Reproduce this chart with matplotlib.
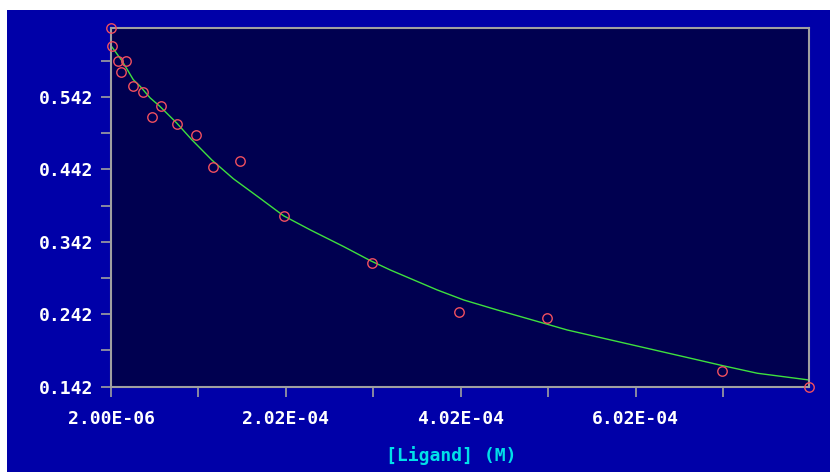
import matplotlib
matplotlib.use("Agg")
import matplotlib.pyplot as plt
from matplotlib.patches import Rectangle
from matplotlib.ticker import FixedLocator, FuncFormatter

# Observed data (ligand concentration in M, signal)
conc_obs = [2.0e-6, 3.0e-6, 9.5e-6, 1.4e-5, 1.9e-5, 2.75e-5, 3.9e-5, 4.85e-5,
            5.9e-5, 7.8e-5, 9.9e-5, 1.19e-4, 1.49e-4, 2.0e-4, 3.0e-4,
            4.0e-4, 5.0e-4, 7.0e-4, 8.0e-4]
signal_obs = [0.637, 0.613, 0.592, 0.577, 0.592, 0.557, 0.549, 0.514,
              0.529, 0.505, 0.489, 0.445, 0.453, 0.377, 0.312,
              0.2455, 0.236, 0.164, 0.142]

# Fitted curve
conc_fit = [2.0e-6, 1.46e-5, 2.75e-5, 3.52e-5, 4.66e-5, 5.8e-5, 7.72e-5, 9.44e-5,
            1.173e-4, 1.42e-4, 1.725e-4, 1.992e-4, 2.297e-4, 2.679e-4, 2.984e-4,
            3.213e-4, 3.748e-4, 4.052e-4, 4.435e-4, 4.968e-4, 5.236e-4,
            6.647e-4, 7.028e-4, 7.41e-4, 8.0e-4]
signal_fit = [0.613, 0.592, 0.566, 0.557, 0.541, 0.529, 0.506, 0.483,
              0.455, 0.429, 0.402, 0.378, 0.3585, 0.3354, 0.316,
              0.303, 0.2755, 0.2616, 0.2478, 0.2294, 0.2201,
              0.181, 0.1704, 0.1603, 0.151]

x_ticks = [2.0e-6, 2.02e-4, 4.02e-4, 6.02e-4]
x_minor = [1.02e-4, 3.02e-4, 5.02e-4, 7.02e-4]
y_ticks = [0.142, 0.242, 0.342, 0.442, 0.542]
y_minor = [0.192, 0.292, 0.392, 0.492, 0.592]

x_range = [2.0e-6, 8.0e-4]
y_range = [0.142, 0.637]

OUTER = "#0000A8"
INNER = "#000050"
GRID = "#A0A0A0"
FONT = "DejaVu Sans Mono"

fig = plt.figure(figsize=(8.3, 4.72), dpi=100, facecolor="white")
bg = fig.add_axes([7 / 830, 0, 1 - 7 / 830, (472 - 10) / 472], zorder=-5)
bg.set_facecolor(OUTER)
bg.set_axis_off()
bg.add_patch(Rectangle((0, 0), 1, 1, transform=bg.transAxes, facecolor=OUTER,
                       edgecolor="none"))

ax = fig.add_axes([111 / 830, (472 - 386.5) / 472, (809 - 111) / 830, (386.5 - 28.3) / 472],
                  zorder=1)
ax.set_facecolor(INNER)
ax.plot(conc_fit, signal_fit, color="#3EE03E", lw=1.0, zorder=2)
ax.plot(conc_obs, signal_obs, linestyle="none", marker="o", markersize=6.8,
        markerfacecolor="none", markeredgecolor="#F04F5F", markeredgewidth=1.0,
        zorder=3, clip_on=False)

ax.set_xlim(*x_range)
ax.set_ylim(*y_range)
ax.xaxis.set_major_locator(FixedLocator(x_ticks))
ax.xaxis.set_minor_locator(FixedLocator(x_minor))
ax.yaxis.set_major_locator(FixedLocator(y_ticks))
ax.yaxis.set_minor_locator(FixedLocator(y_minor))
ax.xaxis.set_major_formatter(FuncFormatter(lambda v, p: ("%.2E" % v)))
ax.yaxis.set_major_formatter(FuncFormatter(lambda v, p: ("%.3f" % v)))

for s in ax.spines.values():
    s.set_color(GRID)
    s.set_linewidth(1.5)

ax.tick_params(axis="both", which="both", direction="out", color=GRID,
               length=7.2, width=1.2, labelcolor="white")
ax.tick_params(axis="y", which="major", pad=5.5)
ax.tick_params(axis="x", which="major", pad=10)
for lab in ax.get_xticklabels() + ax.get_yticklabels():
    lab.set_fontfamily(FONT)
    lab.set_fontweight("bold")
    lab.set_fontsize(13)

ax.set_xlabel("[Ligand] (M)", color="#00E0E8", fontfamily=FONT,
              fontweight="bold", fontsize=13)
ax.xaxis.set_label_coords(0.487, -0.165)

fig.savefig("out.png", dpi=100, facecolor="white")
